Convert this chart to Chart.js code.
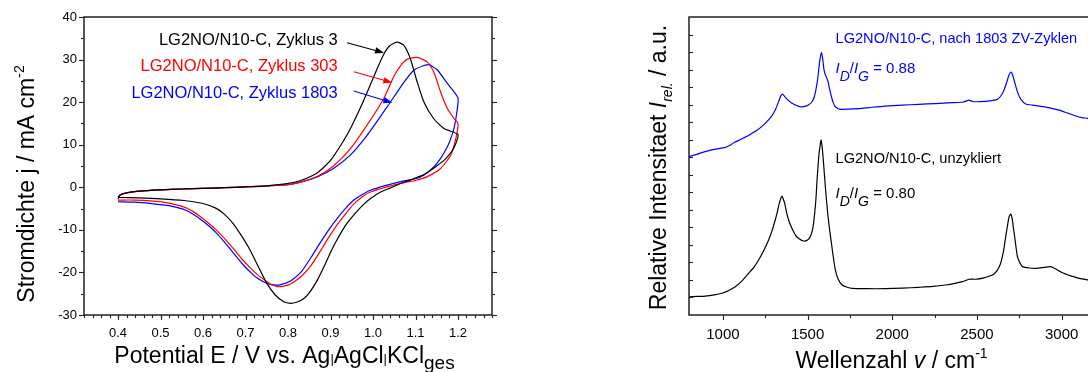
<!DOCTYPE html>
<html>
<head>
<meta charset="utf-8">
<script src="https://cdn.jsdelivr.net/npm/chart.js@4.4.1/dist/chart.umd.min.js"></script>
<style>
  html, body { margin: 0; padding: 0; overflow: hidden; background: #fff; width: 1088px; height: 372px; }
  .panel { position: absolute; top: 0; height: 372px; }
  #cvBox { left: 0; width: 545px; }
  #ramanBox { left: 560px; width: 600px; }
</style>
</head>
<body>
<div id="cvBox" class="panel"><canvas id="cv" width="545" height="372"></canvas></div>
<div id="ramanBox" class="panel"><canvas id="raman" width="600" height="372"></canvas></div>
<script>
const FONT = "'Liberation Sans', Arial, Helvetica, sans-serif";

// Cyclic voltammograms: [E / V, j / mA cm^-2], scan 0.4 -> 1.2 -> 0.4 V
const cvZyklus3 = [
  [0.400, -2.3], [0.405, -1.8], [0.42, -1.3], [0.45, -0.9], [0.50, -0.6], [0.55, -0.4], [0.60, -0.25],
  [0.65, -0.1], [0.70, 0.1], [0.75, 0.35], [0.80, 0.9], [0.83, 1.6], [0.87, 3.5], [0.90, 6.3],
  [0.93, 10.8], [0.95, 14.4], [0.97, 18.6], [0.99, 23.2], [1.01, 27.9], [1.025, 31.2], [1.04, 33.3],
  [1.057, 34.1], [1.073, 33.3], [1.088, 30.2], [1.104, 24.7], [1.12, 20.0], [1.143, 16.1], [1.167, 13.8],
  [1.200, 12.4],
  [1.195, 10.3], [1.185, 8.4], [1.17, 6.6], [1.15, 5.0], [1.12, 3.0], [1.09, 1.8], [1.065, 0.9],
  [1.04, -0.2], [1.02, -1.0], [0.995, -2.6], [0.975, -4.3], [0.955, -6.5], [0.935, -9.0], [0.915, -12.4],
  [0.90, -15.3], [0.884, -18.8], [0.869, -21.8], [0.85, -24.8], [0.835, -26.3], [0.82, -27.0],
  [0.806, -27.25], [0.79, -26.9], [0.77, -25.3], [0.75, -22.5], [0.73, -18.6], [0.71, -14.6],
  [0.69, -11.3], [0.67, -8.4], [0.65, -6.3], [0.63, -4.9], [0.60, -3.8], [0.555, -3.1],
  [0.50, -2.7], [0.45, -2.5], [0.400, -2.4]
];
const cvZyklus303 = [
  [0.400, -2.6], [0.405, -1.8], [0.42, -1.3], [0.45, -0.9], [0.50, -0.6], [0.55, -0.4], [0.60, -0.25],
  [0.65, -0.1], [0.70, 0.1], [0.75, 0.3], [0.80, 0.6], [0.83, 1.2], [0.87, 2.6], [0.907, 5.0],
  [0.947, 9.1], [0.986, 14.6], [1.025, 20.8], [1.049, 26.0], [1.065, 28.6], [1.081, 30.1], [1.104, 30.5],
  [1.128, 29.4], [1.143, 27.1], [1.159, 22.4], [1.175, 18.5], [1.191, 16.1], [1.200, 15.0],
  [1.195, 11.5], [1.183, 7.6], [1.159, 4.4], [1.128, 2.5], [1.10, 1.6], [1.073, 1.1], [1.033, 0.1],
  [0.994, -1.1], [0.975, -2.2], [0.955, -3.9], [0.935, -6.3], [0.915, -8.9], [0.895, -11.9],
  [0.876, -15.0], [0.854, -18.4], [0.83, -21.0], [0.806, -22.7], [0.79, -23.2], [0.775, -23.35],
  [0.762, -22.9], [0.751, -22.2], [0.73, -20.7], [0.712, -19.0], [0.692, -16.9], [0.673, -14.6],
  [0.654, -12.4], [0.634, -10.3], [0.614, -8.5], [0.594, -6.9], [0.575, -5.6], [0.555, -4.6],
  [0.52, -3.7], [0.476, -3.2], [0.44, -3.0], [0.400, -3.0]
];
const cvZyklus1803 = [
  [0.400, -2.8], [0.405, -1.8], [0.42, -1.3], [0.45, -0.9], [0.50, -0.6], [0.55, -0.4], [0.60, -0.25],
  [0.65, -0.1], [0.70, 0.1], [0.75, 0.3], [0.80, 0.6], [0.83, 1.2], [0.87, 2.5], [0.907, 4.4],
  [0.947, 7.6], [0.986, 12.2], [1.025, 17.7], [1.049, 21.2], [1.073, 24.7], [1.096, 27.5], [1.12, 28.6],
  [1.132, 28.8], [1.151, 27.6], [1.175, 24.4], [1.200, 21.0],
  [1.197, 17.5], [1.192, 14.5], [1.187, 12.6], [1.175, 9.5], [1.159, 6.8], [1.143, 4.8], [1.12, 2.9],
  [1.10, 2.0], [1.073, 1.5], [1.033, 0.5], [0.994, -0.7], [0.975, -1.7], [0.955, -3.0], [0.935, -5.0],
  [0.915, -7.4], [0.895, -10.1], [0.876, -13.0], [0.854, -16.5], [0.83, -20.0], [0.806, -22.0],
  [0.785, -22.8], [0.771, -23.0], [0.751, -22.6], [0.73, -21.5], [0.712, -20.0], [0.692, -17.9],
  [0.673, -15.6], [0.654, -13.3], [0.634, -11.0], [0.614, -9.1], [0.594, -7.5], [0.575, -6.2],
  [0.555, -5.2], [0.52, -4.3], [0.476, -3.8], [0.44, -3.5], [0.400, -3.4]
];
const cvXTicks = [0.4, 0.5, 0.6, 0.7, 0.8, 0.9, 1.0, 1.1, 1.2];
const cvYTicks = [-30, -20, -10, 0, 10, 20, 30, 40];
const cvYMinor = [-25, -15, -5, 5, 15, 25, 35];

// Raman spectra: [wavenumber / cm^-1, intensity / a.u. (offset)]
const ramanNach1803 = [
  [797, 9.03], [850, 9.18], [895, 9.32], [950, 9.45], [1014, 9.56], [1033, 9.64], [1070, 9.85],
  [1102, 10.0], [1140, 10.18], [1171, 10.36], [1210, 10.6], [1250, 10.93], [1285, 11.3], [1309, 11.69],
  [1329, 12.17], [1342, 12.5], [1352, 12.6], [1362, 12.5], [1380, 12.3], [1408, 12.08], [1435, 11.95],
  [1457, 11.88], [1485, 11.9], [1507, 12.0], [1525, 12.15], [1540, 12.45], [1556, 13.22], [1565, 13.9],
  [1572, 14.5], [1582, 14.97], [1590, 14.55], [1597, 14.0], [1605, 13.7], [1614, 13.5], [1621, 13.31],
  [1630, 12.9], [1641, 12.45], [1652, 12.1], [1664, 11.88], [1694, 11.73], [1750, 11.75], [1802, 11.77],
  [1880, 11.85], [1960, 11.92], [2060, 11.97], [2157, 12.02], [2255, 12.06], [2355, 12.11], [2420, 12.15],
  [2453, 12.26], [2475, 12.18], [2520, 12.17], [2580, 12.22], [2621, 12.3], [2645, 12.55], [2660, 12.84],
  [2675, 13.25], [2690, 13.7], [2702, 13.86], [2712, 13.65], [2725, 13.2], [2740, 12.7], [2760, 12.3],
  [2788, 12.04], [2830, 11.97], [2867, 11.92], [2930, 11.82], [2986, 11.69], [3040, 11.5], [3084, 11.35],
  [3120, 11.26], [3153, 11.22], [3200, 11.12]
];
const ramanUnzykliert = [
  [797, 1.04], [850, 1.06], [895, 1.08], [950, 1.15], [994, 1.24], [1035, 1.4], [1073, 1.61], [1110, 1.92],
  [1152, 2.38], [1185, 2.75], [1211, 3.14], [1240, 3.65], [1270, 4.28], [1290, 4.8], [1309, 5.42],
  [1322, 5.9], [1333, 6.37], [1342, 6.65], [1349, 6.79], [1357, 6.6], [1365, 6.37], [1375, 5.9],
  [1388, 5.42], [1405, 5.0], [1428, 4.56], [1450, 4.35], [1477, 4.22], [1500, 4.28], [1516, 4.47],
  [1530, 4.9], [1542, 5.8], [1550, 6.7], [1556, 7.7], [1566, 9.03], [1573, 9.6], [1580, 9.98],
  [1587, 9.5], [1593, 8.84], [1605, 7.32], [1613, 6.4], [1621, 5.61], [1631, 4.8], [1641, 4.09],
  [1652, 3.3], [1664, 2.57], [1680, 2.05], [1704, 1.71], [1730, 1.6], [1763, 1.52], [1850, 1.5],
  [1960, 1.5], [2060, 1.53], [2157, 1.58], [2240, 1.63], [2315, 1.71], [2370, 1.8], [2414, 1.9],
  [2453, 2.04], [2493, 2.04], [2540, 2.12], [2591, 2.28], [2620, 2.55], [2640, 2.95], [2658, 3.7],
  [2670, 4.47], [2682, 5.2], [2690, 5.61], [2700, 5.76], [2708, 5.5], [2715, 5.0], [2725, 4.3],
  [2739, 3.33], [2755, 2.95], [2769, 2.76], [2810, 2.68], [2848, 2.66], [2900, 2.72], [2936, 2.76],
  [2970, 2.6], [3005, 2.41], [3050, 2.25], [3084, 2.15], [3120, 2.06], [3153, 2.0], [3200, 1.95]
];
const ramanXTicks = [1000, 1500, 2000, 2500, 3000];
const ramanXMinor = [1250, 1750, 2250, 2750];
const ramanYMarks = [1, 2, 3, 4, 5, 6, 7, 8, 9, 10, 11, 12, 13, 14, 15, 16];

const cvXMinor = [];
for (let i = 0; i <= 48; i++) cvXMinor.push(+(0.32 + i * 0.02).toFixed(2));

const toXY = arr => arr.map(([x, y]) => ({ x, y }));

// ---- text helpers: runs of text with own size / italic / baseline shift ----
const fontOf = r => `${r.it ? 'italic ' : ''}${r.size}px ${FONT}`;
function runsWidth(ctx, runs) {
  let w = 0;
  runs.forEach(r => { ctx.font = fontOf(r); w += ctx.measureText(r.t).width; });
  return w;
}
function drawRuns(ctx, runs, x, y, align, rot, color) {
  ctx.save();
  ctx.translate(x, y);
  if (rot) ctx.rotate(rot);
  const w = runsWidth(ctx, runs);
  let cx = align === 'center' ? -w / 2 : align === 'right' ? -w : 0;
  ctx.textAlign = 'left';
  ctx.textBaseline = 'alphabetic';
  ctx.fillStyle = color || '#000';
  runs.forEach(r => {
    ctx.font = fontOf(r);
    ctx.fillText(r.t, cx, r.dy || 0);
    cx += ctx.measureText(r.t).width;
  });
  ctx.restore();
}

// box + tick marks (major / minor, in or out)
const frameAndMarks = {
  id: 'frameAndMarks',
  afterDraw(chart, args, opts) {
    const { ctx, chartArea: a } = chart;
    ctx.save();
    ctx.strokeStyle = '#222';
    ctx.lineWidth = 1.5;
    ctx.strokeRect(a.left, a.top, a.right - a.left, a.bottom - a.top);
    ctx.lineWidth = 1.1;
    (opts.marks || []).forEach(m => {
      const sc = chart.scales[m.scale];
      m.values.forEach(v => {
        const p = Math.round(sc.getPixelForValue(v)) + 0.5;
        ctx.beginPath();
        if (m.edge === 'bottom') { ctx.moveTo(p, a.bottom); ctx.lineTo(p, a.bottom + m.len); }
        else if (m.edge === 'left') { ctx.moveTo(a.left, p); ctx.lineTo(a.left - m.len, p); }
        else if (m.edge === 'right') { ctx.moveTo(a.right, p); ctx.lineTo(a.right + m.len, p); }
        ctx.stroke();
      });
    });
    ctx.restore();
  }
};

// annotations: texts and arrows in data coordinates, axis titles in pixels
const notes = {
  id: 'notes',
  afterDraw(chart, args, opts) {
    const { ctx, scales: { x, y } } = chart;
    (opts.arrows || []).forEach(ar => {
      const x1 = x.getPixelForValue(ar.from[0]), y1 = y.getPixelForValue(ar.from[1]);
      const x2 = x.getPixelForValue(ar.to[0]), y2 = y.getPixelForValue(ar.to[1]);
      const ang = Math.atan2(y2 - y1, x2 - x1);
      ctx.save();
      ctx.strokeStyle = ar.color; ctx.fillStyle = ar.color; ctx.lineWidth = 1.1;
      ctx.beginPath(); ctx.moveTo(x1, y1); ctx.lineTo(x2 - 6 * Math.cos(ang), y2 - 6 * Math.sin(ang)); ctx.stroke();
      ctx.beginPath();
      ctx.moveTo(x2, y2);
      ctx.lineTo(x2 - 9 * Math.cos(ang) + 3.2 * Math.sin(ang), y2 - 9 * Math.sin(ang) - 3.2 * Math.cos(ang));
      ctx.lineTo(x2 - 9 * Math.cos(ang) - 3.2 * Math.sin(ang), y2 - 9 * Math.sin(ang) + 3.2 * Math.cos(ang));
      ctx.closePath(); ctx.fill();
      ctx.restore();
    });
    (opts.texts || []).forEach(t => {
      drawRuns(ctx, t.runs, x.getPixelForValue(t.at[0]), y.getPixelForValue(t.at[1]), t.align, 0, t.color);
    });
    (opts.titles || []).forEach(t => {
      drawRuns(ctx, t.runs, t.px, t.py, 'center', t.rot, '#000');
    });
  }
};

const tickFont = { family: FONT, size: 13 };
const ratioRuns = val => [
  { t: 'I', it: true, size: 15 }, { t: 'D', it: true, size: 14, dy: 8 },
  { t: '/', size: 15 }, { t: 'I', it: true, size: 15 }, { t: 'G', it: true, size: 14, dy: 8 },
  { t: ' = ' + val, size: 15 }
];

// ---- left: cyclic voltammograms ----
new Chart(document.getElementById('cv'), {
  type: 'scatter',
  data: {
    datasets: [
      { label: 'LG2NO/N10-C, Zyklus 3', data: toXY(cvZyklus3), borderColor: '#000000' },
      { label: 'LG2NO/N10-C, Zyklus 303', data: toXY(cvZyklus303), borderColor: '#ff0000' },
      { label: 'LG2NO/N10-C, Zyklus 1803', data: toXY(cvZyklus1803), borderColor: '#0000ff' }
    ].map(d => Object.assign(d, { showLine: true, pointRadius: 0, borderWidth: 1.2, tension: 0.2, fill: false }))
  },
  options: {
    responsive: false,
    animation: false,
    layout: { padding: { top: 17, right: 53, left: 0, bottom: 0 } },
    scales: {
      x: {
        type: 'linear', min: 0.32, max: 1.28,
        afterBuildTicks: s => { s.ticks = cvXTicks.map(v => ({ value: v })); },
        afterFit: s => { s.height = 57; },
        ticks: { color: '#000', font: tickFont, padding: 11, maxRotation: 0, callback: v => Number(v).toFixed(1) },
        grid: { display: false, drawTicks: false },
        border: { display: false }
      },
      y: {
        type: 'linear', min: -30, max: 40,
        afterBuildTicks: s => { s.ticks = cvYTicks.map(v => ({ value: v })); },
        afterFit: s => { s.width = 84; },
        ticks: { color: '#000', font: tickFont, padding: 7, callback: v => String(v) },
        grid: { display: false, drawTicks: false },
        border: { display: false }
      }
    },
    plugins: {
      legend: { display: false },
      tooltip: { enabled: false },
      frameAndMarks: {
        marks: [
          { scale: 'x', edge: 'bottom', values: cvXMinor, len: 3 },
          { scale: 'x', edge: 'bottom', values: cvXTicks, len: 5 },
          { scale: 'y', edge: 'left', values: cvYTicks, len: 5 },
          { scale: 'y', edge: 'left', values: cvYMinor, len: 3 },
          { scale: 'y', edge: 'right', values: cvYTicks, len: 5 },
          { scale: 'y', edge: 'right', values: cvYMinor, len: 3 }
        ]
      },
      notes: {
        arrows: [
          { from: [0.939, 33.96], to: [1.026, 31.6], color: '#000000' },
          { from: [0.955, 27.15], to: [1.0455, 24.57], color: '#ff0000' },
          { from: [0.955, 22.6], to: [1.0455, 19.87], color: '#0000ff' }
        ],
        texts: [
          { at: [0.917, 33.35], align: 'right', color: '#000000', runs: [{ t: 'LG2NO/N10-C, Zyklus 3', size: 16.5 }] },
          { at: [0.917, 27.25], align: 'right', color: '#ff0000', runs: [{ t: 'LG2NO/N10-C, Zyklus 303', size: 16.5 }] },
          { at: [0.917, 21.0], align: 'right', color: '#0000ff', runs: [{ t: 'LG2NO/N10-C, Zyklus 1803', size: 16.5 }] }
        ],
        titles: [
          { px: 34, py: 184, rot: -Math.PI / 2, runs: [{ t: 'Stromdichte j / mA cm', size: 23 }, { t: '-2', size: 14, dy: -10 }] },
          { px: 284.5, py: 363, rot: 0, runs: [
            { t: 'Potential E / V vs. Ag', size: 23 }, { t: '|', size: 13 }, { t: 'AgCl', size: 23 },
            { t: '|', size: 13 }, { t: 'KCl', size: 23 }, { t: 'ges', size: 19, dy: 6 }
          ] }
        ]
      }
    }
  },
  plugins: [frameAndMarks, notes]
});

// ---- right: Raman spectra ----
new Chart(document.getElementById('raman'), {
  type: 'line',
  data: {
    datasets: [
      { label: 'LG2NO/N10-C, nach 1803 ZV-Zyklen', data: toXY(ramanNach1803), borderColor: '#0000ff' },
      { label: 'LG2NO/N10-C, unzykliert', data: toXY(ramanUnzykliert), borderColor: '#000000' }
    ].map(d => Object.assign(d, { pointRadius: 0, borderWidth: 1.2, tension: 0.2, fill: false }))
  },
  options: {
    responsive: false,
    animation: false,
    layout: { padding: { top: 17, right: 64.5, left: 0, bottom: 0 } },
    scales: {
      x: {
        type: 'linear', min: 800, max: 3200,
        afterBuildTicks: s => { s.ticks = ramanXTicks.map(v => ({ value: v })); },
        afterFit: s => { s.height = 57; },
        ticks: { color: '#000', font: { family: FONT, size: 15 }, padding: 11, maxRotation: 0, callback: v => String(v) },
        grid: { display: false, drawTicks: false },
        border: { display: false }
      },
      y: {
        type: 'linear', min: 0, max: 17,
        afterFit: s => { s.width = 129; },
        ticks: { display: false },
        grid: { display: false, drawTicks: false },
        border: { display: false }
      }
    },
    plugins: {
      legend: { display: false },
      tooltip: { enabled: false },
      frameAndMarks: {
        marks: [
          { scale: 'x', edge: 'bottom', values: ramanXTicks, len: 5 },
          { scale: 'x', edge: 'bottom', values: ramanXMinor, len: 3 },
          { scale: 'y', edge: 'left', values: ramanYMarks, len: -4 }
        ]
      },
      notes: {
        texts: [
          { at: [1665, 15.49], align: 'left', color: '#0000ff', runs: [{ t: 'LG2NO/N10-C, nach 1803 ZV-Zyklen', size: 14.6 }] },
          { at: [1665, 13.79], align: 'left', color: '#0000ff', runs: ratioRuns('0.88') },
          { at: [1665, 8.65], align: 'left', color: '#000000', runs: [{ t: 'LG2NO/N10-C, unzykliert', size: 14.6 }] },
          { at: [1665, 6.66], align: 'left', color: '#000000', runs: ratioRuns('0.80') }
        ],
        titles: [
          { px: 106, py: 167.5, rot: -Math.PI / 2, runs: [
            { t: 'Relative Intensitaet ', size: 23 }, { t: 'I', it: true, size: 23 },
            { t: 'rel.', it: true, size: 14, dy: 6 }, { t: ' / a.u.', size: 23 }
          ] },
          { px: 331.5, py: 368, rot: 0, runs: [
            { t: 'Wellenzahl ', size: 23 }, { t: 'v', it: true, size: 23 }, { t: ' / cm', size: 23 },
            { t: '-1', size: 14, dy: -10 }
          ] }
        ]
      }
    }
  },
  plugins: [frameAndMarks, notes]
});
</script>
</body>
</html>
